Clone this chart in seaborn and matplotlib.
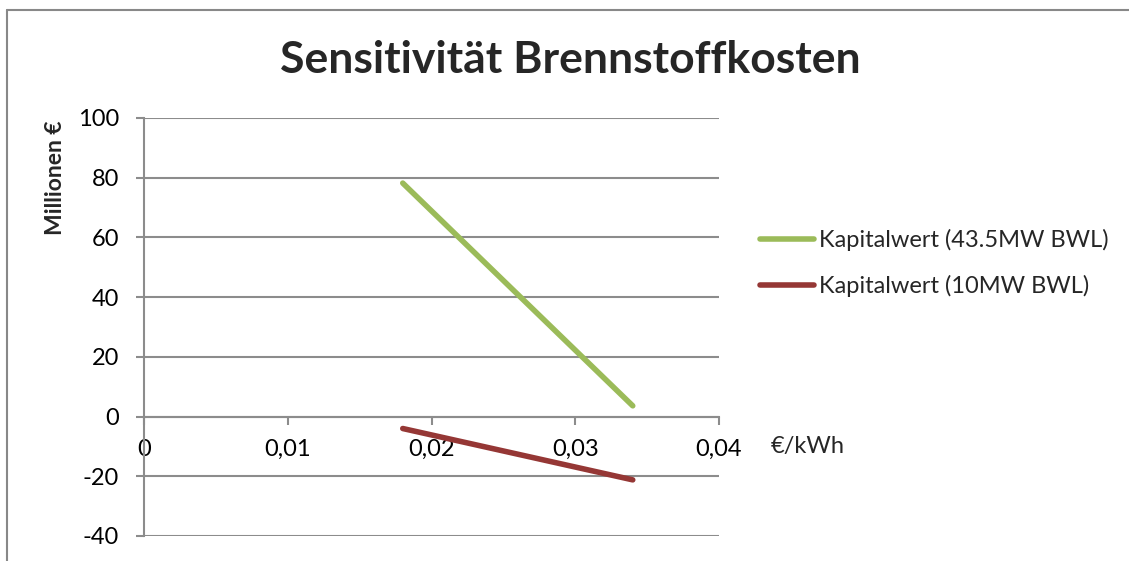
import matplotlib
matplotlib.use("Agg")
import matplotlib.pyplot as plt
from matplotlib.lines import Line2D
import seaborn as sns
import pandas as pd

# Data
x_values = [0.018, 0.034]
series_names = ["Kapitalwert (43.5MW BWL)", "Kapitalwert (10MW BWL)"]
green_values = [78.2, 3.6]
red_values = [-4.0, -21.2]
x_ticks = [0, 0.01, 0.02, 0.03, 0.04]
x_tick_labels = ["0", "0,01", "0,02", "0,03", "0,04"]
y_ticks = [-40, -20, 0, 20, 40, 60, 80, 100]
title = "Sensitivität Brennstoffkosten"
y_label = "Millionen €"
x_label = "€/kWh"

df = pd.DataFrame({
    "x": x_values + x_values,
    "y": green_values + red_values,
    "series": [series_names[0]] * len(x_values) + [series_names[1]] * len(x_values),
})

sns.set_theme(style="white")
plt.rcParams["font.family"] = ["Lato", "DejaVu Sans"]

W, H = 1129, 561
fig = plt.figure(figsize=(W / 100, H / 100), dpi=100)
left, right, top, bottom = 144, 719, 118, 536
ax = fig.add_axes([left / W, 1 - bottom / H, (right - left) / W, (bottom - top) / H])

palette = {series_names[0]: "#9BBB59", series_names[1]: "#953735"}
sns.lineplot(data=df, x="x", y="y", hue="series", palette=palette,
             linewidth=4, ax=ax, legend=True, solid_capstyle="round")

ax.set_xlim(0, 0.04)
ax.set_ylim(-40, 100)
ax.set_yticks(y_ticks)
ax.set_yticklabels([str(v) for v in y_ticks])
ax.set_xticks(x_ticks)
ax.set_xticklabels(x_tick_labels)

grid_color = "#8C8C8C"
ax.yaxis.grid(True, color=grid_color, linewidth=1.5)
ax.xaxis.grid(False)
ax.set_axisbelow(True)
for s in ["top", "right"]:
    ax.spines[s].set_visible(False)
ax.spines["bottom"].set_position(("data", 0))
ax.spines["bottom"].set_color(grid_color)
ax.spines["bottom"].set_linewidth(1.5)
ax.spines["left"].set_color(grid_color)
ax.spines["left"].set_linewidth(1.5)

fs = 17
ax.tick_params(axis="x", direction="out", length=6, width=1.5, color=grid_color,
               pad=10, labelsize=fs, labelcolor="black")
ax.tick_params(axis="y", direction="out", length=6, width=1.5, color=grid_color,
               pad=12, labelsize=fs, labelcolor="black")
ax.tick_params(left=True, bottom=True)

ax.set_xlabel("")
ax.set_ylabel("")
fig.text(56 / W, 1 - 178 / H, y_label, rotation=90, ha="center", va="center",
         fontsize=16.5, fontweight="bold")
ax.text(808 / W, 1 - 447 / H, x_label, transform=fig.transFigure,
        ha="center", va="center", fontsize=fs)

fig.text(570 / W, 1 - 60 / H, title, ha="center", va="center",
         fontsize=32, fontweight="bold")

ax.legend(title=None, frameon=False, loc="center left",
          bbox_to_anchor=(760 / W, 1 - 263 / H), bbox_transform=fig.transFigure,
          fontsize=fs, handlelength=2.3, handletextpad=0.2, labelspacing=1.0,
          borderaxespad=0, borderpad=0)

border = "#888888"
fig.add_artist(Line2D([7 / W, 7 / W], [0, 1 - 10 / H], color=border, linewidth=1.5,
                      transform=fig.transFigure))
fig.add_artist(Line2D([7 / W, 1], [1 - 10 / H, 1 - 10 / H], color=border, linewidth=1.5,
                      transform=fig.transFigure))

fig.savefig("out.png", dpi=100)
